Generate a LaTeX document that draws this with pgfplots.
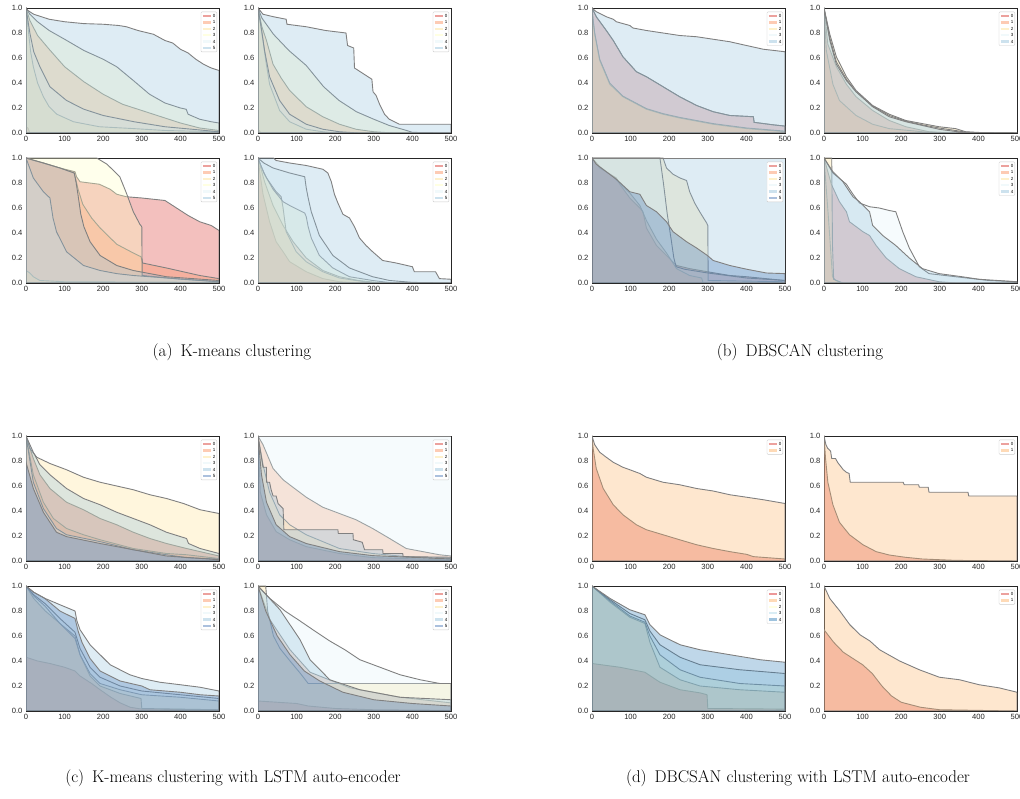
\documentclass[border=0pt]{standalone}
\usepackage{pgfplots}
\pgfplotsset{compat=1.18}
\usepackage{fontspec}
\newfontfamily\tickfamily{Liberation Sans}

\definecolor{r0}{HTML}{D73027}
\definecolor{r1}{HTML}{FC8D59}
\definecolor{r2}{HTML}{FEE090}
\definecolor{r3}{HTML}{FFFFBF}
\definecolor{r4}{HTML}{E0F3F8}
\definecolor{r5}{HTML}{91BFDB}
\definecolor{r6}{HTML}{4575B4}
\definecolor{q0}{HTML}{D7191C}
\definecolor{q1}{HTML}{FDAE61}
\definecolor{q2}{HTML}{FFFFBF}
\definecolor{q3}{HTML}{ABD9E9}
\definecolor{q4}{HTML}{2C7BB6}

\pgfplotsset{
  legend image code/.code={\draw[#1] (0pt,0pt) -- (8pt,0pt);},
  panel/.style 2 args={scale only axis, width=193pt, height=125pt,
    at={(#1pt,#2pt)}, anchor=south west,
    xmin=0, xmax=500, ymin=0, ymax=1,
    xtick={0,100,200,300,400,500}, ytick={0,0.2,0.4,0.6,0.8,1},
    scaled y ticks=false,
    yticklabel style={/pgf/number format/fixed, /pgf/number format/fixed zerofill, /pgf/number format/precision=1},
    /pgf/number format/assume math mode=true,
    ticklabel style={font=\tickfamily\fontsize{7.6}{8}\selectfont, text=black!85},
    major tick length=0pt, tick style={draw=none},
    axis line style={draw=black!85, line width=0.9pt},
    legend style={at={(rel axis cs:0.99,0.97)}, anchor=north east, draw=black!20, fill=white,
      font=\tickfamily\fontsize{4.5}{5}\selectfont, inner sep=0.8pt, row sep=0pt,
      nodes={inner sep=0.7pt, text height=4pt, text depth=1pt}, rounded corners=1pt},
    legend cell align=left},
  cc/.style={draw=black!50, line width=0.9pt, fill=#1, fill opacity=0.3, forget plot},
  li/.style={draw=#1, draw opacity=0.45, line width=2.4pt},
}
\newcommand\legtwo[2]{\addlegendimage{li=#1}\addlegendentry{0}\addlegendimage{li=#2}\addlegendentry{1}}
\newcommand\legfive[5]{\addlegendimage{li=#1}\addlegendentry{0}\addlegendimage{li=#2}\addlegendentry{1}%
  \addlegendimage{li=#3}\addlegendentry{2}\addlegendimage{li=#4}\addlegendentry{3}\addlegendimage{li=#5}\addlegendentry{4}}
\newcommand\legsix[6]{\legfive{#1}{#2}{#3}{#4}{#5}\addlegendimage{li=#6}\addlegendentry{5}}

\begin{document}
\begin{tikzpicture}
\useasboundingbox (0pt,0pt) rectangle (1020pt,798pt);

% ---------------- (a) K-means ----------------
\begin{axis}[panel={26}{665}]
\addplot[cc=r0] coordinates {(0,0.05)(5,0.04)(10,0)(500,0)} \closedcycle;
\addplot[cc=r1] coordinates {(0,1)(10,0.9)(30,0.78)(60,0.67)(100,0.53)(150,0.41)(200,0.31)(250,0.23)(300,0.18)(350,0.13)(400,0.08)(450,0.04)(500,0.02)} \closedcycle;
\addplot[cc=r2] coordinates {(0,1)(5,0.85)(12,0.65)(19,0.53)(30,0.4)(45,0.29)(60,0.21)(80,0.15)(123,0.09)(190,0.05)(280,0.035)(360,0.02)(500,0.01)} \closedcycle;
\addplot[cc=r3] coordinates {(0,1)(10,0.95)(30,0.89)(60,0.82)(100,0.75)(150,0.66)(200,0.59)(235,0.53)(278,0.42)(320,0.31)(360,0.24)(400,0.2)(415,0.19)(420,0.15)(450,0.11)(480,0.09)(500,0.08)} \closedcycle;
\addplot[cc=r4] coordinates {(0,1)(10,0.8)(20,0.65)(36,0.53)(62,0.37)(105,0.26)(150,0.19)(200,0.14)(280,0.09)(360,0.05)(430,0.03)(500,0.01)} \closedcycle;
\addplot[cc=r5] coordinates {(0,1)(5,0.98)(20,0.95)(60,0.91)(100,0.89)(150,0.875)(200,0.87)(240,0.86)(260,0.85)(290,0.82)(330,0.79)(360,0.74)(380,0.72)(400,0.67)(420,0.64)(440,0.59)(460,0.55)(480,0.52)(500,0.50)} \closedcycle;
\legsix{r0}{r1}{r2}{r3}{r4}{r5}
\end{axis}

\begin{axis}[panel={258}{665}]
\addplot[cc=r0] coordinates {(0,0.03)(8,0)(500,0)} \closedcycle;
\addplot[cc=r1] coordinates {(0,1)(10,0.85)(22,0.74)(39,0.55)(60,0.44)(82,0.34)(125,0.21)(168,0.13)(211,0.07)(254,0.03)(300,0.01)(350,0)(500,0)} \closedcycle;
\addplot[cc=r2] coordinates {(0,1)(5,0.9)(13,0.74)(20,0.58)(30,0.39)(56,0.18)(82,0.09)(125,0.03)(168,0.01)(200,0)(500,0)} \closedcycle;
\addplot[cc=r3] coordinates {(0,1)(10,0.92)(40,0.79)(80,0.66)(125,0.54)(170,0.37)(210,0.26)(255,0.17)(300,0.11)(340,0.06)(385,0.02)(400,0.005)(500,0)} \closedcycle;
\addplot[cc=r4] coordinates {(0,1)(8,0.85)(17,0.66)(30,0.45)(56,0.26)(82,0.15)(125,0.07)(168,0.03)(211,0.01)(260,0)(500,0)} \closedcycle;
\addplot[cc=r5] coordinates {(0,1)(13,0.95)(40,0.93)(73,0.91)(75,0.87)(125,0.85)(175,0.82)(228,0.80)(232,0.70)(248,0.68)(250,0.52)(280,0.46)(295,0.43)(298,0.33)(306,0.30)(315,0.23)(328,0.15)(340,0.11)(366,0.07)(500,0.07)} \closedcycle;
\legsix{r0}{r1}{r2}{r3}{r4}{r5}
\end{axis}

\begin{axis}[panel={26}{515}]
\addplot[cc=r0] coordinates {(0,1)(20,0.98)(45,0.96)(88,0.92)(127,0.89)(131,0.85)(140,0.81)(190,0.79)(218,0.75)(235,0.71)(260,0.69)(300,0.68)(360,0.66)(380,0.62)(400,0.58)(420,0.54)(450,0.49)(480,0.46)(500,0.42)} \closedcycle;
\addplot[cc=r1] coordinates {(0,1)(45,0.96)(88,0.92)(125,0.88)(135,0.75)(147,0.63)(170,0.52)(192,0.44)(235,0.31)(278,0.24)(298,0.21)(302,0.16)(364,0.12)(450,0.06)(500,0.035)} \closedcycle;
\addplot[cc=r2] coordinates {(0,0.1)(10,0.08)(19,0.05)(36,0.02)(100,0.01)(500,0.005)} \closedcycle;
\addplot[cc=r3] coordinates {(0,1)(183,1)(210,0.95)(243,0.85)(260,0.72)(278,0.57)(295,0.47)(300,0.45)(301,0.06)(400,0.03)(500,0.01)} \closedcycle;
\addplot[cc=r4] coordinates {(0,1)(19,0.84)(45,0.73)(62,0.68)(66,0.6)(70,0.52)(79,0.41)(105,0.25)(149,0.14)(192,0.10)(235,0.075)(278,0.06)(364,0.04)(500,0.01)} \closedcycle;
\addplot[cc=r5] coordinates {(0,1)(45,0.96)(88,0.92)(125,0.88)(130,0.8)(135,0.7)(142,0.55)(150,0.45)(166,0.33)(192,0.22)(235,0.14)(278,0.10)(321,0.075)(364,0.05)(500,0.02)} \closedcycle;
\legsix{r0}{r1}{r2}{r3}{r4}{r5}
\end{axis}

\begin{axis}[panel={258}{515}]
\addplot[cc=r0] coordinates {(0,1)(5,0.88)(13,0.71)(30,0.49)(47,0.33)(65,0.25)(82,0.17)(125,0.09)(168,0.035)(211,0.01)(260,0)(500,0)} \closedcycle;
\addplot[cc=r1] coordinates {(0,1)(17,0.81)(39,0.62)(65,0.46)(91,0.33)(125,0.2)(168,0.1)(211,0.05)(260,0.02)(320,0)(500,0)} \closedcycle;
\addplot[cc=r2] coordinates {(0,1)(10,0.92)(22,0.84)(47,0.73)(60,0.69)(65,0.6)(73,0.41)(99,0.25)(125,0.17)(168,0.09)(211,0.04)(254,0.02)(300,0)(500,0)} \closedcycle;
\addplot[cc=r3] coordinates {(0,1)(15,0.88)(39,0.75)(65,0.65)(82,0.62)(121,0.56)(125,0.53)(130,0.45)(138,0.36)(159,0.22)(194,0.12)(237,0.05)(297,0.02)(350,0)(500,0)} \closedcycle;
\addplot[cc=r4] coordinates {(0,1)(15,0.96)(39,0.92)(82,0.88)(121,0.85)(125,0.76)(130,0.68)(138,0.57)(159,0.38)(194,0.22)(237,0.12)(297,0.05)(341,0.02)(400,0.005)(500,0)} \closedcycle;
\addplot[cc=r5] coordinates {(0,1)(40,1.0)(47,0.98)(82,0.96)(125,0.94)(168,0.91)(181,0.88)(190,0.81)(198,0.71)(207,0.64)(220,0.55)(237,0.52)(250,0.45)(263,0.36)(280,0.30)(297,0.25)(323,0.18)(358,0.16)(400,0.13)(405,0.09)(460,0.09)(470,0.035)(500,0.03)} \closedcycle;
\legsix{r0}{r1}{r2}{r3}{r4}{r5}
\end{axis}

% ---------------- (b) DBSCAN ----------------
\begin{axis}[panel={592}{665}]
\addplot[cc=r0] coordinates {(0,1)(11,0.93)(37,0.82)(55,0.74)(80,0.61)(115,0.49)(141,0.45)(184,0.37)(227,0.29)(271,0.22)(314,0.17)(357,0.14)(418,0.13)(420,0.085)(470,0.065)(500,0.055)} \closedcycle;
\addplot[cc=r1] coordinates {(0,1)(3,0.9)(7,0.79)(20,0.58)(46,0.39)(80,0.29)(141,0.19)(184,0.15)(227,0.12)(314,0.07)(401,0.035)(500,0.01)} \closedcycle;
\addplot[cc=r2] coordinates {(0,1)(3,0.9)(7,0.8)(20,0.59)(46,0.4)(80,0.295)(141,0.195)(184,0.155)(227,0.125)(314,0.075)(401,0.04)(500,0.015)} \closedcycle;
\addplot[cc=r4] coordinates {(0,1)(11,0.93)(37,0.82)(55,0.74)(80,0.61)(115,0.49)(141,0.45)(184,0.37)(227,0.29)(271,0.22)(314,0.17)(357,0.14)(418,0.13)(420,0.085)(470,0.065)(500,0.055)} \closedcycle;
\addplot[cc=r5] coordinates {(0,1)(11,0.97)(37,0.93)(55,0.91)(63,0.89)(98,0.86)(106,0.84)(141,0.82)(184,0.80)(227,0.78)(271,0.77)(314,0.75)(357,0.73)(400,0.70)(444,0.67)(500,0.65)} \closedcycle;
\legfive{r0}{r1}{r2}{r4}{r5}
\end{axis}

\begin{axis}[panel={824}{665}]
\addplot[cc=r0] coordinates {(0,1)(10,0.71)(32,0.53)(58,0.39)(83,0.29)(126,0.18)(169,0.10)(212,0.05)(272,0.01)(324,0)(500,0)} \closedcycle;
\addplot[cc=r1] coordinates {(0,1)(6,0.66)(23,0.39)(40,0.26)(83,0.14)(126,0.07)(169,0.035)(255,0.01)(341,0)(500,0)} \closedcycle;
\addplot[cc=r2] coordinates {(0,1)(15,0.79)(32,0.61)(58,0.45)(83,0.34)(126,0.22)(169,0.15)(212,0.10)(255,0.075)(298,0.05)(341,0.035)(367,0.01)(427,0)(500,0)} \closedcycle;
\addplot[cc=r4] coordinates {(0,1)(15,0.76)(32,0.57)(58,0.43)(83,0.33)(126,0.215)(169,0.14)(212,0.095)(255,0.065)(298,0.04)(341,0.02)(370,0.005)(500,0)} \closedcycle;
\addplot[cc=r5] coordinates {(0,1)(15,0.74)(32,0.55)(58,0.42)(83,0.33)(126,0.21)(169,0.13)(212,0.09)(255,0.06)(298,0.03)(358,0.005)(500,0)} \closedcycle;
\legfive{r0}{r1}{r2}{r4}{r5}
\end{axis}

\begin{axis}[panel={592}{515}]
\addplot[cc=r0] coordinates {(0,1)(20,0.92)(63,0.84)(72,0.79)(98,0.68)(124,0.6)(132,0.57)(141,0.44)(167,0.30)(193,0.22)(219,0.14)(253,0.115)(299,0.09)(357,0.06)(401,0.05)(500,0.02)} \closedcycle;
\addplot[cc=r1] coordinates {(0,1)(20,0.93)(55,0.85)(98,0.72)(124,0.62)(141,0.5)(167,0.35)(193,0.24)(219,0.115)(253,0.06)(284,0.04)(288,0)(500,0)} \closedcycle;
\addplot[cc=r2] coordinates {(0,1)(184,1)(193,0.92)(210,0.87)(228,0.84)(245,0.82)(253,0.73)(266,0.64)(279,0.57)(297,0.48)(300,0.46)(301,0.02)(500,0.01)} \closedcycle;
\addplot[cc=r4] coordinates {(0,1)(176,1)(185,0.8)(195,0.55)(205,0.35)(212,0.2)(218,0.13)(240,0.11)(300,0.08)(400,0.04)(500,0.02)} \closedcycle;
\addplot[cc=r5] coordinates {(0,1)(500,1)} \closedcycle;
\addplot[cc=r6] coordinates {(0,1)(11,0.95)(37,0.89)(63,0.83)(98,0.73)(124,0.71)(141,0.62)(167,0.57)(193,0.49)(210,0.41)(245,0.33)(271,0.28)(299,0.22)(314,0.18)(357,0.14)(401,0.11)(452,0.08)(500,0.075)} \closedcycle;
\legsix{r0}{r1}{r2}{r4}{r5}{r6}
\end{axis}

\begin{axis}[panel={824}{515}]
\addplot[cc=r0] coordinates {(0,1)(19,0.79)(40,0.65)(58,0.57)(66,0.49)(101,0.41)(118,0.38)(135,0.30)(161,0.20)(195,0.115)(238,0.05)(298,0.01)(341,0)(500,0)} \closedcycle;
\addplot[cc=r1] coordinates {(0,1)(12,0.5)(22,0.05)(30,0.02)(40,0.01)(45,0)(500,0)} \closedcycle;
\addplot[cc=r2] coordinates {(0,1)(20,1)(22,0.3)(25,0.03)(40,0.01)(50,0)(500,0)} \closedcycle;
\addplot[cc=r4] coordinates {(0,1)(23,0.88)(58,0.79)(75,0.71)(92,0.64)(118,0.61)(143,0.60)(169,0.58)(186,0.57)(204,0.41)(221,0.28)(247,0.13)(272,0.075)(341,0.05)(427,0.02)(500,0.01)} \closedcycle;
\addplot[cc=r5] coordinates {(0,1)(23,0.89)(49,0.81)(75,0.69)(92,0.65)(118,0.57)(126,0.46)(152,0.38)(186,0.30)(221,0.20)(255,0.115)(298,0.075)(358,0.05)(401,0.03)(500,0.01)} \closedcycle;
\legfive{r0}{r1}{r2}{r4}{r5}
\end{axis}

% ---------------- (c) K-means + LSTM AE ----------------
\begin{axis}[panel={26}{237}]
\addplot[cc=r0] coordinates {(0,1)(19,0.82)(36,0.69)(62,0.58)(105,0.47)(149,0.41)(192,0.34)(235,0.29)(278,0.23)(321,0.18)(364,0.14)(416,0.10)(451,0.075)(500,0.04)} \closedcycle;
\addplot[cc=r1] coordinates {(0,1)(19,0.69)(45,0.47)(71,0.34)(105,0.26)(149,0.21)(192,0.17)(278,0.10)(364,0.06)(416,0.05)(500,0.02)} \closedcycle;
\addplot[cc=r2] coordinates {(0,1)(5,0.95)(10,0.9)(28,0.83)(62,0.78)(105,0.73)(149,0.67)(192,0.63)(235,0.60)(278,0.57)(321,0.53)(364,0.50)(408,0.46)(451,0.41)(500,0.38)} \closedcycle;
\addplot[cc=r4] coordinates {(0,1)(19,0.63)(45,0.42)(79,0.26)(105,0.21)(192,0.155)(278,0.09)(364,0.05)(416,0.027)(500,0.015)} \closedcycle;
\addplot[cc=r5] coordinates {(0,1)(19,0.87)(36,0.77)(62,0.69)(105,0.58)(149,0.50)(192,0.45)(235,0.39)(278,0.34)(321,0.29)(364,0.23)(416,0.18)(421,0.14)(451,0.10)(500,0.06)} \closedcycle;
\addplot[cc=r6] coordinates {(0,0.79)(19,0.58)(45,0.39)(79,0.23)(105,0.195)(192,0.14)(278,0.09)(364,0.04)(500,0.01)} \closedcycle;
\legsix{r0}{r1}{r2}{r4}{r5}{r6}
\end{axis}

\begin{axis}[panel={258}{237}]
\addplot[cc=r0] coordinates {(0,1)(6,0.55)(22,0.37)(47,0.235)(82,0.17)(125,0.115)(211,0.06)(297,0.027)(500,0.008)} \closedcycle;
\addplot[cc=r1] coordinates {(0,1)(13,0.93)(39,0.74)(65,0.65)(82,0.61)(125,0.51)(168,0.43)(211,0.38)(254,0.33)(297,0.26)(341,0.18)(384,0.10)(427,0.075)(470,0.05)(500,0.04)} \closedcycle;
\addplot[cc=r2] coordinates {(0,1)(13,0.77)(30,0.55)(56,0.37)(82,0.29)(125,0.21)(168,0.155)(211,0.10)(297,0.06)(384,0.035)(500,0.02)} \closedcycle;
\addplot[cc=r4] coordinates {(0,1)(500,1)} \closedcycle;
\addplot[cc=r5] coordinates {(0,1)(13,0.75)(22,0.75)(22,0.63)(30,0.63)(34,0.57)(39,0.52)(47,0.52)(52,0.46)(65,0.42)(67,0.25)(207,0.25)(208,0.22)(246,0.22)(247,0.17)(270,0.15)(276,0.09)(323,0.09)(324,0.06)(375,0.06)(376,0.035)(500,0.03)} \closedcycle;
\addplot[cc=r6] coordinates {(0,1)(9,0.69)(22,0.47)(47,0.29)(82,0.195)(125,0.14)(211,0.075)(297,0.043)(500,0.016)} \closedcycle;
\legsix{r0}{r1}{r2}{r4}{r5}{r6}
\end{axis}

\begin{axis}[panel={26}{87}]
\addplot[cc=r0] coordinates {(0,0.43)(30,0.4)(62,0.38)(100,0.35)(127,0.32)(140,0.28)(170,0.22)(192,0.17)(220,0.11)(244,0.065)(270,0.03)(300,0.015)(500,0.01)} \closedcycle;
\addplot[cc=r1] coordinates {(0,1)(20,0.9)(50,0.8)(88,0.7)(127,0.6)(140,0.45)(166,0.28)(192,0.2)(244,0.14)(298,0.1)(300,0.02)(500,0.01)} \closedcycle;
\addplot[cc=r2] coordinates {(0,1)(20,0.92)(49,0.84)(88,0.7)(127,0.58)(140,0.45)(166,0.3)(192,0.22)(244,0.17)(300,0.13)(400,0.11)(500,0.08)} \closedcycle;
\addplot[cc=r4] coordinates {(0,1)(20,0.93)(49,0.86)(88,0.74)(127,0.63)(140,0.5)(166,0.35)(192,0.27)(244,0.2)(300,0.16)(400,0.13)(500,0.1)} \closedcycle;
\addplot[cc=r5] coordinates {(0,1)(20,0.95)(50,0.9)(88,0.85)(127,0.80)(132,0.72)(140,0.65)(166,0.53)(192,0.45)(218,0.37)(269,0.29)(300,0.26)(347,0.23)(400,0.21)(451,0.19)(500,0.16)} \closedcycle;
\addplot[cc=r6] coordinates {(0,1)(20,0.95)(49,0.9)(88,0.8)(127,0.74)(135,0.64)(145,0.55)(166,0.42)(192,0.32)(244,0.24)(300,0.2)(321,0.17)(400,0.15)(451,0.13)(500,0.12)} \closedcycle;
\legsix{r0}{r1}{r2}{r4}{r5}{r6}
\end{axis}

\begin{axis}[panel={258}{87}]
\addplot[cc=r0] coordinates {(0,0.08)(50,0.07)(100,0.06)(130,0.04)(200,0.02)(300,0.01)(500,0.005)} \closedcycle;
\addplot[cc=r1] coordinates {(0,1)(31,0.73)(83,0.49)(135,0.31)(238,0.185)(368,0.11)(500,0.065)} \closedcycle;
\addplot[cc=r2] coordinates {(0,1)(20,1)(25,0.8)(40,0.6)(57,0.5)(83,0.4)(110,0.3)(130,0.22)(500,0.22)} \closedcycle;
\addplot[cc=r4] coordinates {(0,1)(31,0.9)(70,0.8)(109,0.72)(147,0.64)(186,0.56)(225,0.49)(264,0.41)(316,0.35)(368,0.29)(420,0.25)(471,0.22)(500,0.22)} \closedcycle;
\addplot[cc=r5] coordinates {(0,1)(57,0.81)(83,0.69)(109,0.57)(135,0.41)(186,0.25)(264,0.17)(368,0.11)(500,0.09)} \closedcycle;
\addplot[cc=r6] coordinates {(0,1)(20,0.8)(50,0.6)(83,0.45)(120,0.32)(160,0.24)(220,0.15)(300,0.09)(400,0.06)(500,0.04)} \closedcycle;
\legsix{r0}{r1}{r2}{r4}{r5}{r6}
\end{axis}

% ---------------- (d) DBSCAN + LSTM AE ----------------
\begin{axis}[panel={592}{237}]
\addplot[cc=r0] coordinates {(0,1)(3,0.90)(11,0.74)(29,0.58)(55,0.45)(80,0.37)(115,0.29)(141,0.25)(184,0.21)(227,0.17)(271,0.13)(314,0.10)(357,0.075)(401,0.053)(418,0.035)(500,0.016)} \closedcycle;
\addplot[cc=q1] coordinates {(0,1)(7,0.93)(20,0.87)(37,0.83)(55,0.79)(80,0.75)(98,0.73)(124,0.70)(141,0.67)(184,0.63)(227,0.61)(271,0.58)(314,0.56)(357,0.53)(401,0.51)(444,0.49)(500,0.46)} \closedcycle;
\legtwo{r0}{q1}
\end{axis}

\begin{axis}[panel={824}{237}]
\addplot[cc=r0] coordinates {(0,1)(4,0.82)(10,0.63)(23,0.45)(40,0.31)(66,0.21)(101,0.13)(135,0.075)(169,0.048)(210,0.03)(255,0.016)(341,0.005)(500,0)} \closedcycle;
\addplot[cc=q1] coordinates {(0,1)(5,0.93)(10,0.9)(17,0.88)(20,0.82)(30,0.82)(35,0.79)(40,0.77)(45,0.75)(50,0.73)(58,0.71)(65,0.7)(68,0.63)(205,0.63)(208,0.61)(245,0.61)(247,0.59)(270,0.59)(272,0.55)(373,0.55)(375,0.52)(500,0.52)} \closedcycle;
\legtwo{r0}{q1}
\end{axis}

\begin{axis}[panel={592}{87}]
\addplot[cc=q0] coordinates {(0,0.38)(72,0.35)(137,0.31)(176,0.23)(228,0.17)(280,0.145)(298,0.13)(300,0.02)(500,0.015)} \closedcycle;
\addplot[cc=q1] coordinates {(0,1)(47,0.87)(98,0.75)(137,0.7)(150,0.55)(176,0.35)(228,0.25)(280,0.2)(383,0.17)(500,0.15)} \closedcycle;
\addplot[cc=q2] coordinates {(0,1)(47,0.88)(98,0.76)(137,0.71)(150,0.6)(176,0.45)(228,0.33)(280,0.27)(383,0.22)(500,0.2)} \closedcycle;
\addplot[cc=q3] coordinates {(0,1)(47,0.89)(98,0.78)(137,0.73)(150,0.64)(176,0.53)(228,0.43)(280,0.37)(383,0.33)(500,0.3)} \closedcycle;
\addplot[cc=q4] coordinates {(0,1)(47,0.9)(98,0.81)(137,0.77)(150,0.69)(176,0.61)(228,0.53)(280,0.49)(358,0.45)(436,0.41)(500,0.39)} \closedcycle;
\legfive{q0}{q1}{q2}{q3}{q4}
\end{axis}

\begin{axis}[panel={824}{87}]
\addplot[cc=r0] coordinates {(0,0.65)(25,0.55)(50,0.47)(75,0.42)(100,0.37)(125,0.3)(150,0.2)(175,0.12)(200,0.07)(250,0.03)(300,0.01)(500,0)} \closedcycle;
\addplot[cc=q1] coordinates {(0,1)(15,0.9)(41,0.8)(67,0.69)(93,0.61)(119,0.56)(144,0.49)(196,0.40)(247,0.33)(299,0.27)(351,0.25)(402,0.21)(454,0.185)(500,0.15)} \closedcycle;
\legtwo{r0}{q1}
\end{axis}

\node[font=\fontsize{17}{19}\selectfont] at (232pt,446pt) {(a)\hspace{8pt}K-means clustering};
\node[font=\fontsize{17}{19}\selectfont] at (800pt,446pt) {(b)\hspace{8pt}DBSCAN clustering};
\node[font=\fontsize{17}{19}\selectfont] at (233pt,20pt) {(c)\hspace{8pt}K-means clustering with LSTM auto-encoder};
\node[font=\fontsize{17}{19}\selectfont] at (798pt,20pt) {(d)\hspace{8pt}DBCSAN clustering with LSTM auto-encoder};
\end{tikzpicture}
\end{document}
